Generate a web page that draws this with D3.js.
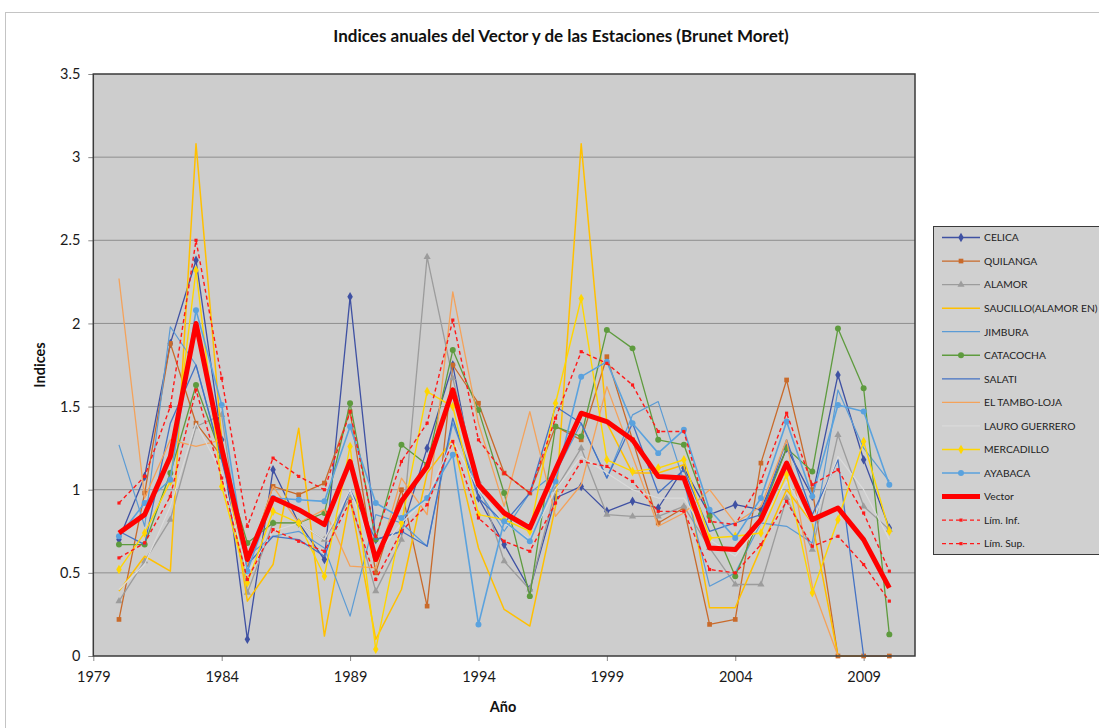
<!DOCTYPE html>
<html><head><meta charset="utf-8">
<script src="https://cdn.jsdelivr.net/npm/d3@7"></script>
<style>
body{margin:0;background:#fff;}
text{font-family:Lato,"Open Sans",sans-serif;}
</style></head>
<body><svg id="c" width="1099" height="728"></svg>
<script>
const years = d3.range(1980, 2011);
const xTicks = [1979,1984,1989,1994,1999,2004,2009];
const yTicks = [0,0.5,1,1.5,2,2.5,3,3.5];

const celica     = [0.70,1.08,1.88,2.38,1.30,0.10,1.12,0.80,0.58,2.16,0.70,0.75,1.25,1.75,0.95,0.67,0.40,0.95,1.02,0.87,0.93,0.89,1.13,0.85,0.91,0.88,1.25,0.96,1.69,1.18,0.77];
const quilanga   = [0.22,0.98,1.88,1.40,1.20,0.55,1.02,0.97,1.04,1.47,0.50,1.00,0.30,1.75,1.52,1.10,0.98,1.38,1.30,1.80,1.30,0.80,0.89,0.19,0.22,1.16,1.66,1.00,0.00,0.00,0.00];
const alamor     = [0.33,0.57,0.82,1.38,1.45,0.38,0.80,0.80,0.70,0.95,0.39,0.70,2.40,1.67,1.05,0.57,0.40,1.00,1.25,0.85,0.84,0.84,0.90,0.65,0.43,0.43,0.95,0.64,1.33,0.90,0.76];
const saucillo   = [0.39,0.60,0.51,3.08,1.30,0.33,0.55,1.37,0.12,0.95,0.10,0.40,1.10,1.30,0.65,0.28,0.18,0.90,3.08,1.40,1.10,1.10,1.15,0.29,0.29,0.65,1.00,0.80,0.00,0.00,0.00];
const jimbura    = [1.27,0.78,1.98,1.75,1.18,0.60,0.72,0.75,0.65,0.24,0.85,0.80,0.66,1.40,1.00,0.75,0.98,1.10,1.40,1.07,1.45,1.53,1.05,0.42,0.50,0.80,0.78,0.68,1.60,1.25,1.05];
const catacocha  = [0.67,0.67,1.10,1.63,1.20,0.68,0.80,0.80,0.86,1.52,0.70,1.27,1.15,1.84,1.48,0.98,0.36,1.38,1.32,1.96,1.85,1.30,1.27,0.84,0.48,0.85,1.25,1.11,1.97,1.61,0.13];
const salati     = [0.75,0.67,1.40,1.75,1.18,0.55,0.72,0.70,0.60,1.00,0.70,0.75,0.66,1.43,0.95,0.80,0.98,1.50,1.40,1.07,1.40,0.98,1.12,0.75,0.80,0.85,1.30,0.85,1.18,0.00,0.00];
const elTambo    = [2.27,0.95,1.30,1.26,1.30,0.55,1.02,0.80,0.88,0.54,0.53,1.07,0.85,2.19,1.40,0.90,1.47,0.84,1.03,1.62,1.20,0.78,0.86,1.00,0.80,0.90,1.30,0.42,0.00,0.00,0.00];
const lauro      = [0.40,0.55,0.90,1.40,1.10,0.50,0.75,0.80,0.70,1.00,0.60,0.80,0.95,1.30,1.00,0.80,0.70,1.00,1.20,1.10,1.00,0.95,0.95,0.70,0.60,0.80,1.05,0.80,1.20,1.00,0.70];
const mercadillo = [0.52,0.74,1.05,2.32,1.02,0.44,0.87,0.80,0.48,1.26,0.04,0.80,1.59,1.50,0.85,0.82,0.75,1.52,2.15,1.18,1.11,1.13,1.18,0.71,0.72,0.74,1.09,0.38,0.82,1.29,0.75];
const ayabaca    = [0.72,0.92,1.06,2.08,1.51,0.51,0.95,0.94,0.93,1.38,0.92,0.83,0.95,1.21,0.19,0.81,0.69,1.05,1.68,1.77,1.40,1.22,1.36,0.88,0.71,0.95,1.41,0.96,1.51,1.47,1.03];
const vector     = [0.74,0.85,1.20,2.00,1.25,0.58,0.95,0.88,0.79,1.17,0.58,0.93,1.14,1.60,1.03,0.86,0.77,1.12,1.46,1.41,1.30,1.08,1.07,0.65,0.64,0.82,1.16,0.82,0.89,0.70,0.41];
const limInf     = [0.59,0.68,0.96,1.60,1.07,0.46,0.76,0.69,0.63,0.93,0.46,0.75,0.91,1.29,0.83,0.69,0.63,0.92,1.17,1.14,1.05,0.87,0.87,0.52,0.50,0.67,0.93,0.66,0.72,0.55,0.33];
const limSup     = [0.92,1.08,1.50,2.50,1.67,0.78,1.19,1.08,1.00,1.47,0.72,1.17,1.40,2.02,1.30,1.10,0.98,1.43,1.83,1.76,1.63,1.35,1.35,0.81,0.79,1.05,1.46,1.03,1.12,0.86,0.51];

const seriesNames = ["CELICA","QUILANGA","ALAMOR","SAUCILLO(ALAMOR EN)","JIMBURA","CATACOCHA","SALATI","EL TAMBO-LOJA","LAURO GUERRERO","MERCADILLO","AYABACA","Vector","Lím. Inf.","Lím. Sup."];
const seriesValues = [celica,quilanga,alamor,saucillo,jimbura,catacocha,salati,elTambo,lauro,mercadillo,ayabaca,vector,limInf,limSup];
const seriesColors = ["#3F51A3","#C96A2A","#9C9C9C","#FFC000","#5B9BD5","#5E9B3E","#4472C4","#F4A25A","#DADADA","#FFD600","#5AA2DE","#FF0000","#FF1A1A","#FF1A1A"];
const seriesMarkers = ["diamond","square","triangle",null,null,"circle",null,null,null,"diamond","circle",null,"square","square"];
const seriesWidths = [1.3,1.3,1.3,1.5,1.2,1.3,1.3,1.3,1.2,1.4,1.6,5,1.4,1.4];
const seriesDash = [null,null,null,null,null,null,null,null,null,null,null,null,"4,3","4,3"];

const svg = d3.select("#c");
const W = 1099, H = 728;
const x = d3.scaleLinear().domain([1979, 2011]).range([93.3, 915]);
const y = d3.scaleLinear().domain([0, 3.5]).range([656, 74]);

svg.append("rect").attr("width", W).attr("height", H).attr("fill", "#fff");
svg.append("rect").attr("x", 5.5).attr("y", 12.5).attr("width", 1200).attr("height", 800)
  .attr("fill", "#fff").attr("stroke", "#c4c4c4");

// plot area
svg.append("rect").attr("x", x(1979)).attr("y", y(3.5))
  .attr("width", x(2011) - x(1979)).attr("height", y(0) - y(3.5)).attr("fill", "#cdcdcd");

// gridlines
svg.append("g").selectAll("line").data(yTicks.filter(d => d > 0 && d < 3.5)).join("line")
  .attr("x1", x(1979)).attr("x2", x(2011)).attr("y1", d => y(d)).attr("y2", d => y(d))
  .attr("stroke", "#8e8e8e").attr("stroke-width", 1);

// axes
const yAxis = svg.append("g").attr("transform", `translate(${x(1979)},0)`)
  .call(d3.axisLeft(y).tickValues(yTicks).tickFormat(d => String(d)).tickSize(5).tickPadding(8));
const xAxis = svg.append("g").attr("transform", `translate(0,${y(0)})`)
  .call(d3.axisBottom(x).tickValues(xTicks).tickFormat(d3.format("d")).tickSize(5).tickPadding(11));
[yAxis, xAxis].forEach(g => {
  g.select(".domain").remove();
  g.selectAll(".tick line").attr("stroke", "#8a8a8a");
  g.selectAll(".tick text").attr("fill", "#1a1a1a").style("font-size", "14.5px");
});

// series
const line = d3.line().x((d, i) => x(years[i])).y(d => y(d));
const sym = {diamond: d3.symbolDiamond, square: d3.symbolSquare, triangle: d3.symbolTriangle, circle: d3.symbolCircle};
const symSize = {diamond: 26, square: 22, triangle: 22, circle: 28};

seriesValues.forEach((vals, k) => {
  const g = svg.append("g");
  g.append("path").datum(vals).attr("d", line).attr("fill", "none")
    .attr("stroke", seriesColors[k]).attr("stroke-width", seriesWidths[k])
    .attr("stroke-linejoin", "round")
    .attr("stroke-dasharray", seriesDash[k]);
  const m = seriesMarkers[k];
  if (m) {
    const sz = (k >= 12) ? 10 : symSize[m];
    g.selectAll("path.m").data(vals).join("path").attr("class", "m")
      .attr("transform", (d, i) => `translate(${x(years[i])},${y(d)})`)
      .attr("d", d3.symbol(sym[m], sz)).attr("fill", seriesColors[k]);
  }
});

// plot border
svg.append("rect").attr("x", x(1979)).attr("y", y(3.5))
  .attr("width", x(2011) - x(1979)).attr("height", y(0) - y(3.5))
  .attr("fill", "none").attr("stroke", "#3a3a3a").attr("stroke-width", 1.5);

// titles
svg.append("text").attr("x", 561).attr("y", 42).attr("text-anchor", "middle")
  .style("font-size", "17px").style("font-weight", "bold").attr("fill", "#111")
  .text("Indices anuales del Vector y de las Estaciones (Brunet Moret)");
svg.append("text").attr("transform", "translate(45,365) rotate(-90)").attr("text-anchor", "middle")
  .style("font-size", "14.5px").style("font-weight", "bold").attr("fill", "#111").text("Indices");
svg.append("text").attr("x", 503).attr("y", 712).attr("text-anchor", "middle")
  .style("font-size", "14.5px").style("font-weight", "bold").attr("fill", "#111").text("Año");

// legend
const lg = svg.append("g");
lg.append("rect").attr("x", 933.5).attr("y", 226.5).attr("width", 220).attr("height", 328)
  .attr("fill", "#d0d0d0").attr("stroke", "#3a3a3a").attr("stroke-width", 1);
seriesNames.forEach((name, k) => {
  const yy = 237.5 + k * 23.55;
  lg.append("line").attr("x1", 942).attr("x2", 980).attr("y1", yy).attr("y2", yy)
    .attr("stroke", seriesColors[k]).attr("stroke-width", Math.min(seriesWidths[k], 5))
    .attr("stroke-dasharray", seriesDash[k]);
  const m = seriesMarkers[k];
  if (m) {
    const sz = (k >= 12) ? 10 : symSize[m];
    lg.append("path").attr("transform", `translate(961,${yy})`).attr("d", d3.symbol(sym[m], sz)).attr("fill", seriesColors[k]);
  }
  lg.append("text").attr("x", 984).attr("y", yy + 3.8).style("font-size", "10.3px").attr("fill", "#222").text(name);
});
</script></body></html>
